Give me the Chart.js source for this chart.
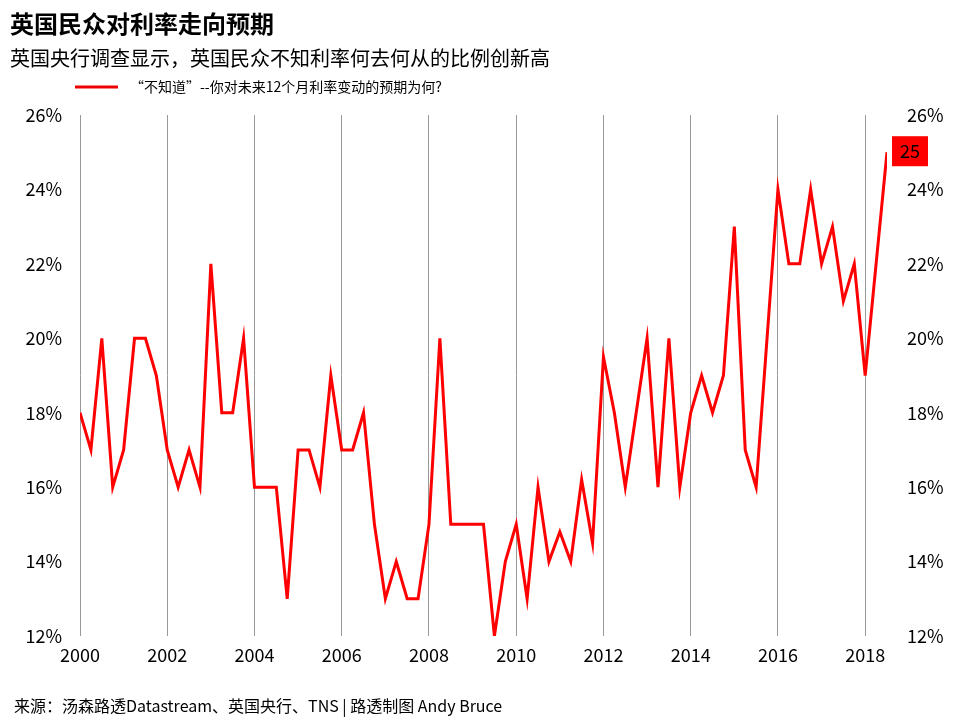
<!DOCTYPE html>
<html><head><meta charset="utf-8">
<script src="https://cdn.jsdelivr.net/npm/chart.js@4/dist/chart.umd.min.js"></script>
<style>html,body{margin:0;padding:0;background:#fff}#w{width:960px;height:720px}</style>
</head><body><div id="w"><canvas id="c"></canvas></div>
<script>
const startYear = 2000;
const values = [18,17,20,16, 17,20,20,19, 17,16,17,16, 22,18,18,20, 16,16,16,13, 17,17,16,19,
  17,17,18,15, 13,14,13,13, 15,20,15,15, 15,15,12,14, 15,13,16,14, 14.8,14,16.2,14.5,
  19.5,18,16,18, 20,16,20,16, 18,19,18,19, 23,17,16,20, 24,22,22,24, 22,23,21,22, 19,22,25];
const xTicks = [2000,2002,2004,2006,2008,2010,2012,2014,2016,2018];
const yTicks = [12,14,16,18,20,22,24,26];
const seriesLabel = '“不知道”--你对未来12个月利率变动的预期为何?';
const title = '英国民众对利率走向预期';
const subtitle = '英国央行调查显示，英国民众不知利率何去何从的比例创新高';
const source = '来源：汤森路透Datastream、英国央行、TNS | 路透制图 Andy Bruce';
const F = '"Noto Sans CJK SC","Noto Sans",sans-serif';
const pts = values.map((v,i)=>({x:startYear+i/4,y:v}));

const deco = {id:'deco', afterDraw(ch){
  const c=ch.ctx; c.save();
  c.fillStyle='#000'; c.textBaseline='middle'; c.textAlign='left';
  c.font='bold 24px '+F; c.fillText(title,10,24);
  c.font='20px '+F; c.fillText(subtitle,10,58);
  c.strokeStyle='#e00'; c.lineWidth=3; c.beginPath(); c.moveTo(75,87); c.lineTo(118,87); c.stroke();
  c.font='14px '+F; c.fillText(seriesLabel,130,87);
  c.font='16px '+F; c.fillText(source,14,706);
  const meta=ch.getDatasetMeta(0); const p=meta.data[meta.data.length-1];
  c.fillStyle='#f00'; c.fillRect(p.x+5,p.y-16,36,30);
  c.fillStyle='#000'; c.font='18px '+F; c.textAlign='center';
  c.fillText(String(values[values.length-1]),p.x+23,p.y-1);
  c.restore();
}};
const only = arr => ax => { ax.ticks = arr.map(v=>({value:v})); };
new Chart(document.getElementById('c'),{
  type:'line',
  data:{datasets:[{label:seriesLabel,data:pts,borderColor:'#f00',borderWidth:3,pointRadius:0,tension:0}]},
  options:{responsive:true,maintainAspectRatio:false,animation:false,
    layout:{padding:{top:115,bottom:38,left:10,right:10}},
    plugins:{legend:{display:false},tooltip:{enabled:false}},
    scales:{
      x:{type:'linear',min:2000,max:2018.5,afterBuildTicks:only(xTicks),afterFit:a=>{a.height=46},
        grid:{color:'#999',drawTicks:false},border:{display:false},
        ticks:{color:'#000',font:{size:18,family:F},padding:8,callback:v=>String(v)}},
      y:{min:12,max:26,afterBuildTicks:only(yTicks),afterFit:a=>{a.width=70},
        grid:{display:false},border:{display:false},
        ticks:{color:'#000',font:{size:18,family:F},padding:10,callback:v=>v+'%'}},
      y2:{position:'right',min:12,max:26,afterBuildTicks:only(yTicks),afterFit:a=>{a.width=63},
        grid:{display:false},border:{display:false},
        ticks:{color:'#000',font:{size:18,family:F},padding:12,callback:v=>v+'%'}}
    }},
  plugins:[deco]
});
</script></body></html>
